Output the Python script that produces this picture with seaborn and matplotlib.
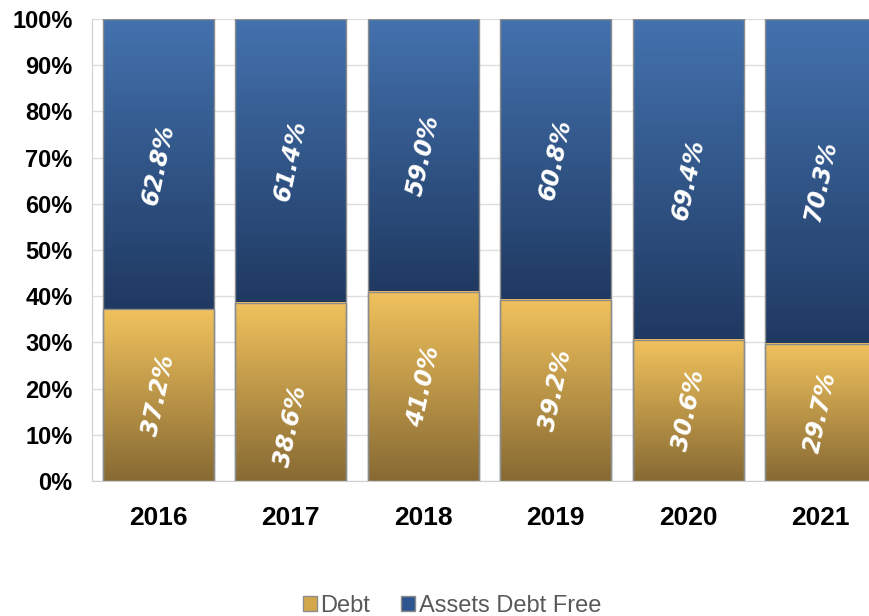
import numpy as np
import pandas as pd
import seaborn as sns
import matplotlib.pyplot as plt
from matplotlib.colors import to_rgb
from matplotlib.patches import Patch

# data
years = ["2016", "2017", "2018", "2019", "2020", "2021"]
debt = [37.2, 38.6, 41.0, 39.2, 30.6, 29.7]
debt_free = [62.8, 61.4, 59.0, 60.8, 69.4, 70.3]

sns.set_style("white")
plt.rcParams['font.family'] = ['Liberation Sans', 'DejaVu Sans']

df = pd.DataFrame({"year": years, "debt": debt, "free": debt_free})
df["total"] = df["debt"] + df["free"]

fig = plt.figure(figsize=(8.7, 6.16), dpi=100)
ax = fig.add_axes([92 / 870, 1 - 481 / 616, 6 * 132.5 / 870, 462 / 616])

blue_top, blue_bot = "#4472ae", "#1f3961"
gold_top, gold_bot = "#f1c25d", "#876a33"


def gradient(top, bottom):
    t = np.linspace(0, 1, 256)[:, None, None]
    c0 = np.array(to_rgb(top))[None, None, :]
    c1 = np.array(to_rgb(bottom))[None, None, :]
    return c0 * (1 - t) + c1 * t


sns.barplot(data=df, x="year", y="total", color=blue_top, width=0.84, ax=ax)
n = len(ax.patches)
sns.barplot(data=df, x="year", y="debt", color=gold_top, width=0.84, ax=ax)
blue_bars = ax.patches[:n]
gold_bars = ax.patches[n:]

for bb, gb in zip(blue_bars, gold_bars):
    x, w = bb.get_x(), bb.get_width()
    top = bb.get_height()
    mid = gb.get_height()
    ax.imshow(gradient(blue_top, blue_bot), extent=[x, x + w, mid, top],
              aspect="auto", origin="upper", zorder=2)
    ax.imshow(gradient(gold_top, gold_bot), extent=[x, x + w, 0, mid],
              aspect="auto", origin="upper", zorder=2)
    for p in (bb, gb):
        p.set_facecolor("none")
        p.set_edgecolor("#8c8c8c")
        p.set_linewidth(1.0)
        p.set_zorder(3)

ax.set_xlim(-0.5, len(years) - 0.5)
ax.set_ylim(0, 100)

# labels
label_shift = {1: -7.5}
for i, (d, f) in enumerate(zip(debt, debt_free)):
    ax.text(i, d / 2 + label_shift.get(i, 0), f"{d:.1f}%", rotation=78,
            ha="center", va="center", color="white", fontsize=17,
            fontweight="bold", style="italic", family="DejaVu Sans", zorder=4)
    ax.text(i, d + f / 2, f"{f:.1f}%", rotation=78,
            ha="center", va="center", color="white", fontsize=17,
            fontweight="bold", style="italic", family="DejaVu Sans", zorder=4)

ax.set_yticks(np.arange(0, 101, 10))
ax.set_yticklabels([f"{v}%" for v in range(0, 101, 10)], fontsize=17,
                   fontweight="bold", color="black")
ax.tick_params(axis="y", length=7, color="#d0d0d0", pad=7)
ax.tick_params(axis="x", length=0, pad=18, labelsize=19, labelcolor="black")
for lab in ax.get_xticklabels():
    lab.set_fontweight("bold")
ax.grid(axis="y", color="#dedede", linewidth=1, zorder=0)
ax.set_axisbelow(True)
ax.set_xlabel("")
ax.set_ylabel("")
for s in ["top", "right"]:
    ax.spines[s].set_visible(False)
ax.spines["left"].set_color("#d0d0d0")
ax.spines["bottom"].set_color("#d0d0d0")

handles = [Patch(facecolor="#d4a84a", edgecolor="#8c8c8c", label="Debt"),
           Patch(facecolor="#2f5590", edgecolor="#8c8c8c", label="Assets Debt Free")]
fig.legend(handles=handles, loc="center", bbox_to_anchor=(452 / 870, 1 - 606 / 616),
           ncol=2, frameon=False, fontsize=17, handlelength=0.6, handleheight=0.6,
           handletextpad=0.15, columnspacing=1.3, labelcolor="#595959",
           borderaxespad=0)

fig.savefig("out.png", dpi=100)
